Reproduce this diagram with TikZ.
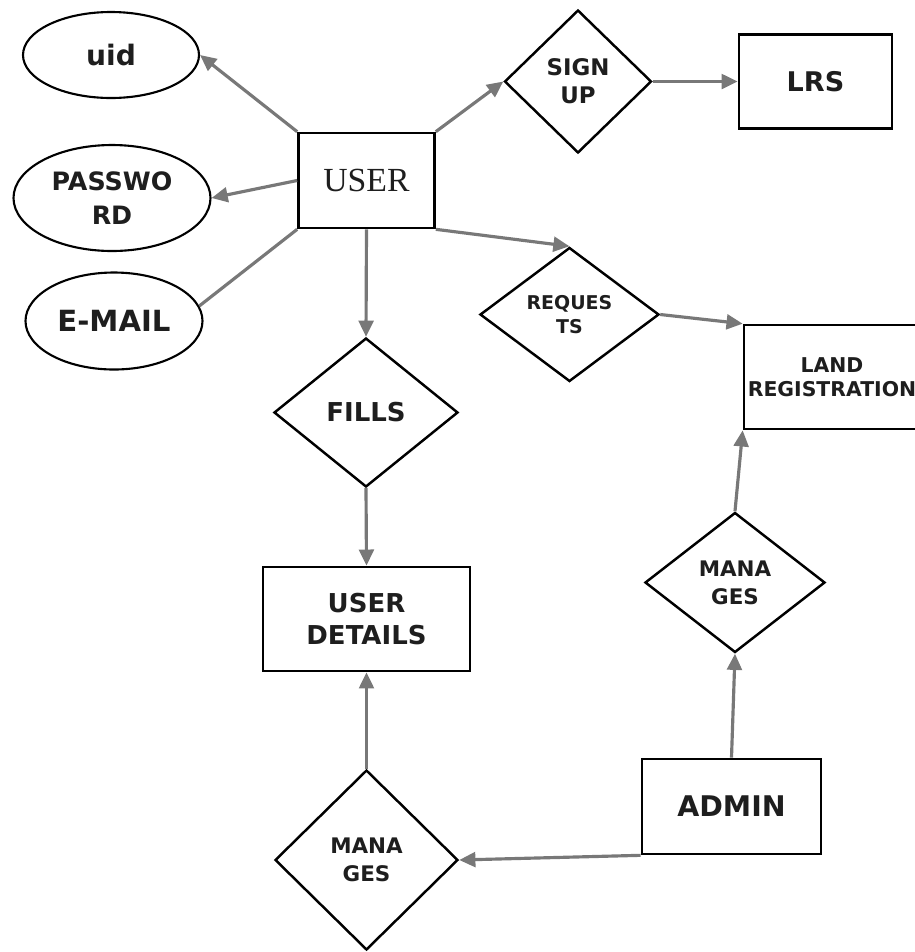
\documentclass[tikz,border=0pt]{standalone}
\usepackage{fontspec}
\setmainfont{DejaVu Sans}
\newfontfamily\userserif{Liberation Serif}
\usepackage{xcolor}
\usepackage{tikz}
\usetikzlibrary{positioning,shapes.geometric,arrows.meta}
\definecolor{linkgray}{RGB}{120, 120, 120}
\definecolor{inkgray}{RGB}{30, 30, 30}

\begin{document}
\begin{tikzpicture}[
  entity/.style={rectangle, draw=black, line width=0.75pt, inner sep=0pt,
                 align=center, text=inkgray, font=\bfseries\fontsize{7.4}{9}\selectfont},
  relation/.style={diamond, draw=black, line width=0.7pt, inner sep=0pt,
                   align=center, text=inkgray, font=\bfseries\fontsize{6.1}{8}\selectfont},
  attrib/.style={ellipse, draw=black, line width=0.6pt, inner sep=0pt,
                 align=center, text=inkgray, font=\bfseries\fontsize{8}{9.5}\selectfont},
  arr/.style={-{Triangle[length=4.6pt,width=4.2pt]}, line width=0.9pt, color=linkgray},
  link/.style={line width=0.9pt, color=linkgray}
]
  \useasboundingbox (0,0) rectangle (9.14,-9.52);

  % attributes
  \node[attrib, minimum width=1.76cm, minimum height=0.86cm] (uid) at (1.11,-0.55) {uid};
  \node[attrib, minimum width=1.97cm, minimum height=1.06cm,
        font=\bfseries\fontsize{7.2}{9.5}\selectfont] (pwd) at (1.12,-1.98) {PASSWO\\RD};
  \node[attrib, minimum width=1.77cm, minimum height=0.97cm,
        font=\bfseries\fontsize{8.3}{10}\selectfont] (email) at (1.14,-3.21) {E-MAIL};

  % entities
  \node[entity, minimum width=1.36cm, minimum height=0.95cm,
        font=\userserif\fontsize{9.6}{11}\selectfont] (user) at (3.665,-1.805) {USER};
  \node[entity, minimum width=1.53cm, minimum height=0.94cm,
        font=\bfseries\fontsize{7.7}{9}\selectfont] (lrs) at (8.155,-0.815) {LRS};
  \node[entity, minimum width=1.76cm, minimum height=1.04cm,
        font=\bfseries\fontsize{5.8}{6.9}\selectfont] (land) at (8.32,-3.77) {LAND\\REGISTRATION};
  \node[entity, minimum width=2.07cm, minimum height=1.04cm] (udet) at (3.665,-6.19) {USER\\DETAILS};
  \node[entity, minimum width=1.79cm, minimum height=0.95cm,
        font=\bfseries\fontsize{8.1}{9.5}\selectfont] (admin) at (7.315,-8.065) {ADMIN};

  % relations
  \node[relation, minimum width=1.47cm, minimum height=1.43cm,
        font=\bfseries\fontsize{6.5}{7.9}\selectfont] (signup) at (5.78,-0.815) {SIGN\\UP};
  \node[relation, minimum width=1.79cm, minimum height=1.34cm,
        font=\bfseries\fontsize{5.4}{6.9}\selectfont] (req) at (5.695,-3.145) {REQUES\\TS};
  \node[relation, minimum width=1.84cm, minimum height=1.49cm,
        font=\bfseries\fontsize{7.4}{9}\selectfont] (fills) at (3.66,-4.125) {FILLS};
  \node[relation, minimum width=1.80cm, minimum height=1.40cm] (mngland) at (7.35,-5.825) {MANA\\GES};
  \node[relation, minimum width=1.83cm, minimum height=1.80cm] (mnguser) at (3.665,-8.6) {MANA\\GES};

  \draw[arr] (user.north west) -- (uid.east);
  \draw[arr] (user.west) -- (pwd.east);
  \draw[link] (user.south west) -- (email.10);
  \draw[arr] (user.north east) -- (signup.west);
  \draw[arr] (signup.east) -- (lrs.west);
  \draw[arr] (user.south east) -- (req.north);
  \draw[arr] (req.east) -- (land.north west);
  \draw[arr] (user.south) -- (fills.north);
  \draw[arr] (fills.south) -- (udet.north);
  \draw[arr] (mnguser.north) -- (udet.south);
  \draw[arr] (admin.south west) -- (mnguser.east);
  \draw[arr] (admin.north) -- (mngland.south);
  \draw[arr] (mngland.north) -- (land.south west);
\end{tikzpicture}
\end{document}
